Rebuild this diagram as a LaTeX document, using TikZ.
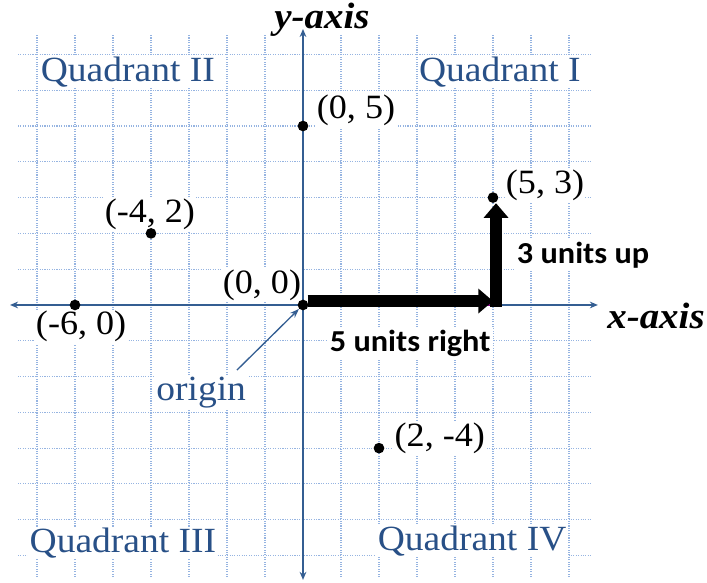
\documentclass[tikz,border=0pt]{standalone}
\usepackage{fontspec}
\setmainfont{Liberation Serif}[FakeStretch=1.06]
\newfontfamily\axisfont{Liberation Serif}[UprightFont={* Bold Italic}, FakeStretch=1.06]
\newfontfamily\stepfont{Carlito}[FakeStretch=1.06]
\usetikzlibrary{arrows.meta}
\definecolor{axisblue}{RGB}{52,94,146}
\definecolor{quadblue}{RGB}{40,80,135}
\definecolor{gridblue}{RGB}{150,180,225}

\begin{document}
\begin{tikzpicture}[x=1cm, y=0.942cm,
  gridline/.style={gridblue, densely dotted, line width=0.8pt},
  axisline/.style={axisblue, line width=1.4pt, {Stealth[length=6pt,width=5pt]}-{Stealth[length=6pt,width=5pt]}},
  dot/.style={circle, fill=black, inner sep=0pt, minimum size=8pt},
  coordlbl/.style={fill=white, inner sep=1pt, font=\fontsize{25.5}{27}\selectfont},
  quadlbl/.style={fill=white, inner sep=1pt, text=quadblue, font=\fontsize{26.5}{28}\selectfont},
  axislbl/.style={inner sep=1pt, font=\axisfont\fontsize{27.5}{29}\selectfont},
  steplbl/.style={fill=white, inner sep=2pt, font=\stepfont\fontsize{22.8}{24}\selectfont\bfseries},
  bigarrow/.style={line width=9pt, -{Triangle[length=11pt,width=18pt]}},
  magline/.style={violet, line width=1pt}]
\useasboundingbox (-7.974,-7.765) rectangle (10.632,8.520);

% grid
\foreach \y in {-7,...,7}
  \draw [gridline] (-7.5,\y) -- (7.6,\y);
\foreach \x in {-7,...,7}
  \draw [gridline] (\x,-7.6) -- (\x,7.55);

% labels
\node [quadlbl] (q2) at (-4.61,6.51) {Quadrant II};
\node [quadlbl] (q1) at (5.18,6.51) {Quadrant I};
\node [quadlbl] (q3) at (-4.74,-6.65) {Quadrant III};
\node [quadlbl] (q4) at (4.45,-6.59) {Quadrant IV};
\node [quadlbl] (orig) at (-2.68,-2.46) {origin};

\node [coordlbl] (l05)  at (1.395,5.45) {(0, 5)};
\node [coordlbl] (lm42) at (-4.03,2.54) {(-4, 2)};
\node [coordlbl] (l53)  at (6.37,3.35)  {(5, 3)};
\node [coordlbl] (l00)  at (-1.08,0.56) {(0, 0)};
\node [coordlbl] (lm60) at (-5.84,-0.61) {(-6, 0)};
\node [coordlbl] (l2m4) at (3.6,-3.72)  {(2, -4)};

\node [steplbl] (lup)  at (7.37,1.40)  {3 units up};
\node [steplbl] (lrgt) at (2.82,-1.06) {5 units right};

% axes
\coordinate (xl) at (-7.71,0);
\coordinate (xr) at (7.76,0);
\coordinate (yb) at (0,-7.68);
\coordinate (yt) at (0,7.71);
\draw [axisline] (xl) -- (xr);
\draw [axisline] (yb) -- (yt);
\node [axislbl] (ylbl) at (0.5,7.96)  {y-axis};
\node [axislbl] (xlbl) at (9.29,-0.31) {x-axis};

% points
\node [dot] (p05)  at (0,5)  {};
\node [dot] (pm42) at (-4,2) {};
\node [dot] (p53)  at (5,3)  {};
\node [dot] (p00)  at (0,0)  {};
\node [dot] (pm60) at (-6,0) {};
\node [dot] (p2m4) at (2,-4) {};

\coordinate (otail) at (-1.74,-1.82);
\draw [axisblue, line width=1pt, -{Stealth[length=7pt,width=5pt]}] (otail) -- (p00);

% 5 right, 3 up
\coordinate (p50)  at (5,0);
\coordinate (hbeg) at (0.12,0.11);
\coordinate (hend) at (5.0,0.11);
\coordinate (vbeg) at (5.08,-0.05);
\draw [magline] (p00) -- (p50);
\draw [bigarrow] (hbeg) -- (hend);
\draw [bigarrow] (vbeg) -- (vbeg |- p53.south);

\end{tikzpicture}
\end{document}
